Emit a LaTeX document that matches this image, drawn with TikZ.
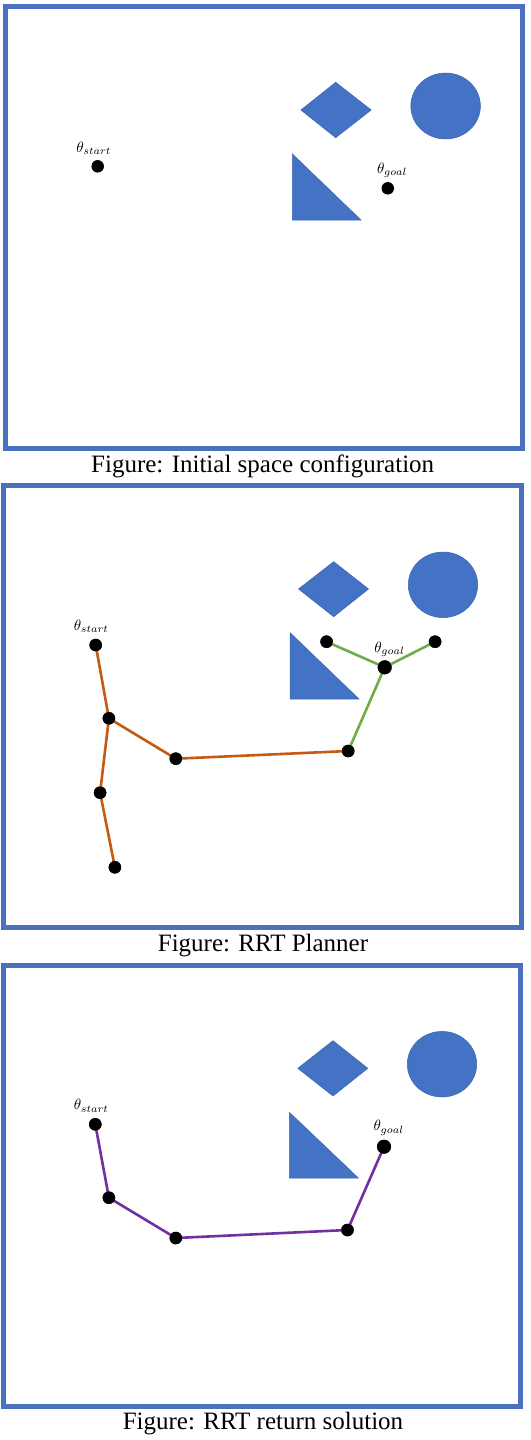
\documentclass[tikz,border=0pt]{standalone}
\usepackage{fontspec}
\setmainfont{Liberation Serif}
\definecolor{obj}{HTML}{4472C4}
\definecolor{objline}{HTML}{3B64B0}
\definecolor{frameblue}{HTML}{4A70C0}
\definecolor{treebrown}{HTML}{C55A11}
\definecolor{treegreen}{HTML}{70AD47}
\definecolor{pathpurple}{HTML}{7030A0}
\newcommand{\thlab}[1]{\scalebox{1.5}{$\theta_{#1}$}}
\tikzset{
  frame/.style={draw=frameblue, line width=5pt},
  obstacle/.style={fill=obj, draw=objline, line width=0.5pt},
  dot/.style={circle, fill=black, inner sep=0pt, minimum size=12.5pt},
  bigdot/.style={dot, minimum size=14pt},
  lab/.style={inner sep=0pt},
  caption/.style={inner sep=0pt, font=\fontsize{25}{30}\selectfont},
  brownedge/.style={draw=treebrown, line width=2.6pt},
  greenedge/.style={draw=treegreen, line width=2.6pt},
  purpleedge/.style={draw=pathpurple, line width=2.6pt}
}
\begin{document}
\begin{tikzpicture}[x=1pt,y=-1pt]
\useasboundingbox (0,0) rectangle (530,1440);
\fill[white] (0,0) rectangle (530,1440);

% ---------- Panel 1 ----------
\draw[frame] (5.8,6.5) rectangle (522.5,448);
\draw[obstacle] (300.9,110) -- (335.7,82.3) -- (371.2,110) -- (335.7,137.7) -- cycle;
\draw[obstacle] (445.6,106) ellipse [x radius=34.8pt, y radius=33pt];
\draw[obstacle] (292.4,154) -- (292.4,220) -- (361,220) -- cycle;
\node[dot] (a-start) at (97.7,166.3) {};
\node[lab] (a-startlab) at (93.8,148.3) {\thlab{start}};
\node[dot] (a-goal) at (387.8,188.3) {};
\node[lab] (a-goallab) at (392.2,170) {\thlab{goal}};
\node[caption] (cap1) at (262.7,466) {Figure: Initial space configuration};

% ---------- Panel 2 ----------
\draw[frame] (3.5,485.8) rectangle (521.5,927);
\draw[obstacle] (298.5,589) -- (333.7,561.7) -- (368.5,589) -- (333.7,616.7) -- cycle;
\draw[obstacle] (443,584.8) ellipse [x radius=34.7pt, y radius=32.8pt];
\draw[obstacle] (290.1,632.7) -- (290.1,699) -- (359,699) -- cycle;
\node[dot] (b-start) at (95.7,645) {};
\node[dot] (b-n2) at (108.9,718.3) {};
\node[dot] (b-n3) at (100.1,792.7) {};
\node[dot] (b-n4) at (114.9,867.3) {};
\node[dot] (b-n5) at (175.8,758.7) {};
\node[dot] (b-n6) at (348.2,751) {};
\node[bigdot] (b-goal) at (384.7,667.3) {};
\node[dot] (b-g1) at (326.6,641.7) {};
\node[dot] (b-g2) at (435.1,641.7) {};
\draw[brownedge] (b-start.center) -- (b-n2.center);
\draw[brownedge] (b-n2.center) -- (b-n3.center);
\draw[brownedge] (b-n3.center) -- (b-n4.center);
\draw[brownedge] (b-n2.center) -- (b-n5.center);
\draw[brownedge] (b-n5.center) -- (b-n6.center);
\draw[greenedge] (b-n6.center) -- (b-goal.center);
\draw[greenedge] (b-goal.center) -- (b-g1.center);
\draw[greenedge] (b-goal.center) -- (b-g2.center);
\foreach \n in {b-start,b-n2,b-n3,b-n4,b-n5,b-n6,b-g1,b-g2}
  \fill (\n.center) circle (6.25pt);
\fill (b-goal.center) circle (7pt);
\node[lab] (b-startlab) at (91.3,626) {\thlab{start}};
\node[lab] (b-goallab) at (389.5,649) {\thlab{goal}};
\node[caption] (cap2) at (263,945.5) {Figure: RRT Planner};

% ---------- Panel 3 ----------
\draw[frame] (3.5,965.8) rectangle (520.5,1406.7);
\draw[obstacle] (297.8,1068.3) -- (333,1040.7) -- (367.8,1068.3) -- (333,1096) -- cycle;
\draw[obstacle] (442,1064.2) ellipse [x radius=34.7pt, y radius=32.8pt];
\draw[obstacle] (289.4,1112.3) -- (289.4,1178) -- (358.4,1178) -- cycle;
\node[dot] (c-start) at (95.3,1124.3) {};
\node[dot] (c-n2) at (108.9,1197.7) {};
\node[dot] (c-n5) at (175.8,1238) {};
\node[dot] (c-n6) at (347.5,1230) {};
\node[bigdot] (c-goal) at (384,1146.7) {};
\draw[purpleedge] (c-start.center) -- (c-n2.center);
\draw[purpleedge] (c-n2.center) -- (c-n5.center);
\draw[purpleedge] (c-n5.center) -- (c-n6.center);
\draw[purpleedge] (c-n6.center) -- (c-goal.center);
\foreach \n in {c-start,c-n2,c-n5,c-n6}
  \fill (\n.center) circle (6.25pt);
\fill (c-goal.center) circle (7pt);
\node[lab] (c-startlab) at (91.3,1105.7) {\thlab{start}};
\node[lab] (c-goallab) at (388.8,1127.7) {\thlab{goal}};
\node[caption] (cap3) at (263,1424) {Figure: RRT return solution};
\end{tikzpicture}
\end{document}
